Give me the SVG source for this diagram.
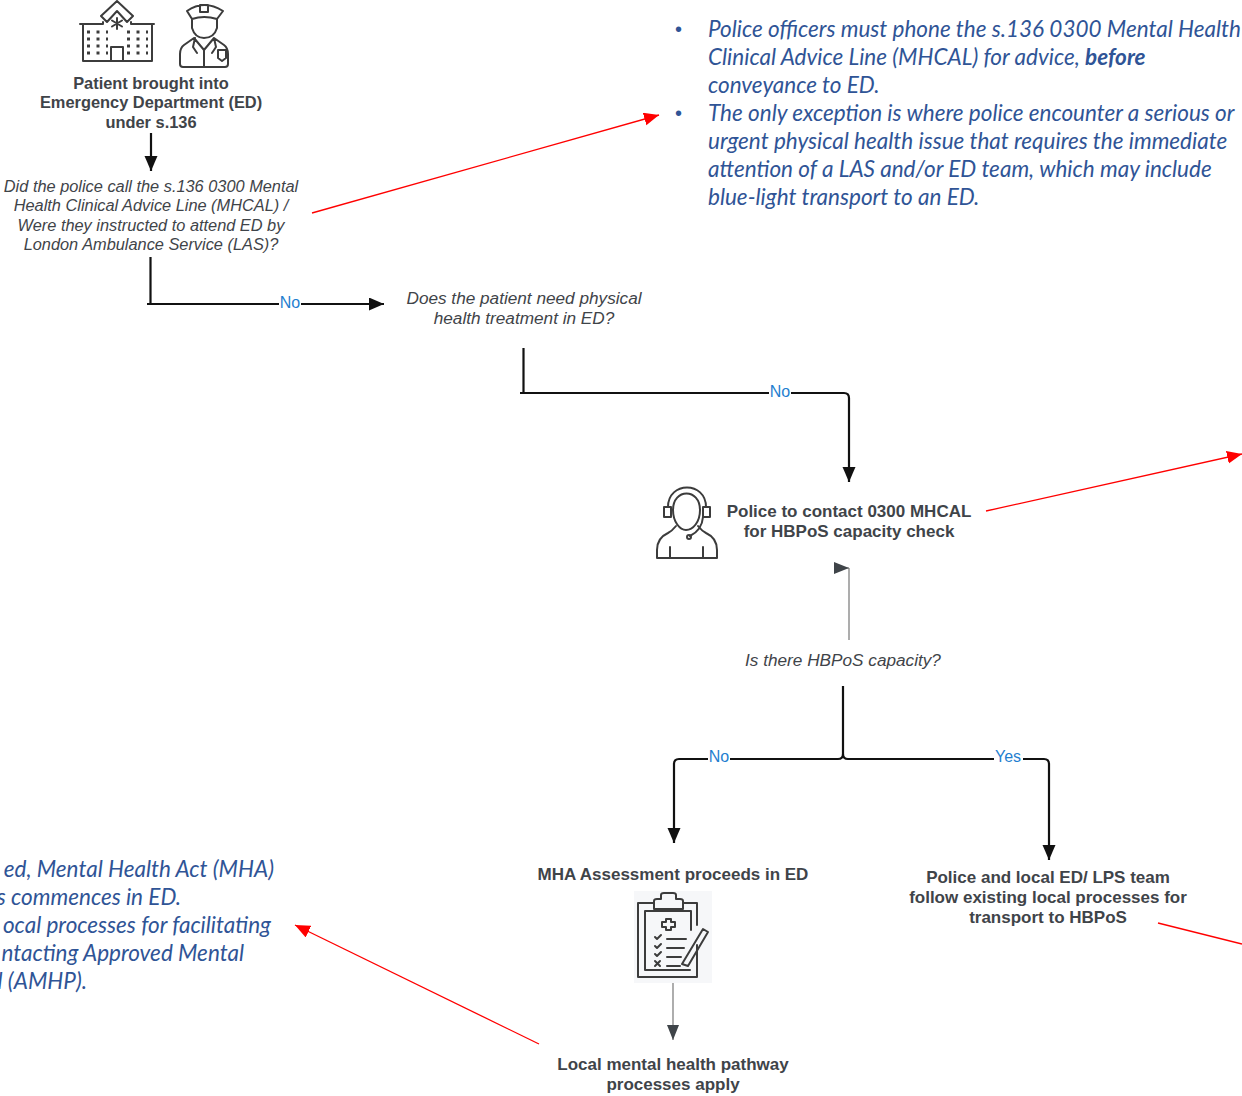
<svg xmlns="http://www.w3.org/2000/svg" width="1242" height="1096" viewBox="0 0 1242 1096">
<style>
.h{font:bold 17px "Liberation Sans",Arial,sans-serif;fill:#3f4449;text-anchor:middle}
.hs{font-size:16.4px}
.q{font:italic 17.2px "Liberation Sans",Arial,sans-serif;fill:#3f4449;text-anchor:middle}
.qs{font-size:16.35px}
.n{font:italic 22.5px Lato,"Liberation Sans",sans-serif;fill:#2f5496}
.l{font:16px "Liberation Sans",Arial,sans-serif;fill:#1f7fd0;text-anchor:middle}
.k{fill:none;stroke:#111;stroke-width:2.2}
.g{fill:none;stroke:#777;stroke-width:1.2}
.r{fill:none;stroke:#f00;stroke-width:1.3}
.i{fill:none;stroke:#3c3c3c;stroke-width:2;stroke-linejoin:round;stroke-linecap:round}
.lb{fill:#fff}
</style>
<defs>
<marker id="ak" markerWidth="16" markerHeight="14" refX="15" refY="6.5" orient="auto" markerUnits="userSpaceOnUse"><path d="M0 0L15 6.5L0 13z" fill="#111"/></marker>
<marker id="ag" markerWidth="16" markerHeight="14" refX="15" refY="6" orient="auto" markerUnits="userSpaceOnUse"><path d="M0 0L15 6L0 12z" fill="#3f4449"/></marker>
<marker id="ar" markerWidth="16" markerHeight="14" refX="15" refY="6.5" orient="auto" markerUnits="userSpaceOnUse"><path d="M0 0L15 6.5L0 13z" fill="#f00"/></marker>
</defs>
<rect width="1242" height="1096" fill="#fff"/>
<g id="connectors">
<path class="k" marker-end="url(#ak)" d="M151 133V171"/>
<path class="k" marker-end="url(#ak)" d="M150.500 257V304M147 304H384"/>
<path class="k" marker-end="url(#ak)" d="M523.500 348V393M520 393H844Q849 393 849 398V482"/>
<path class="g" marker-end="url(#ag)" d="M849 568V640M847 568H849"/>
<path class="k" marker-end="url(#ak)" d="M843 686V754Q843 759 838 759H679Q674 759 674 764V843"/>
<path class="k" marker-end="url(#ak)" d="M843 754Q843 759 848 759H1044Q1049 759 1049 764V860"/>
<path class="g" marker-end="url(#ag)" d="M673 982V1040"/>
<path class="r" marker-end="url(#ar)" d="M312 213L659 115"/>
<path class="r" marker-end="url(#ar)" d="M986 511L1242 454"/>
<path class="r" d="M1158 923L1242 944"/>
<path class="r" marker-end="url(#ar)" d="M539 1044L295 925"/>
<rect class="lb" x="279" y="295" width="22" height="16"/><text class="l" x="290" y="308">No</text>
<rect class="lb" x="769" y="384" width="22" height="16"/><text class="l" x="780" y="397">No</text>
<rect class="lb" x="708" y="749" width="22" height="16"/><text class="l" x="719" y="762">No</text>
<rect class="lb" x="994" y="749" width="29" height="16"/><text class="l" x="1008" y="762">Yes</text>
</g>
<g id="node-start">
<g class="i">
<path d="M80 24H103M131 24H154M83 24V61H152V24M101 16L117 1L133 16L127 22L117 11L107 22ZM103 24V22M131 24V22M111 61V47H123V61"/>
<path d="M117 18V29M112 20.500L122 26.500M122 20.500L112 26.500"/>
<path stroke-dasharray="3 6.500" stroke-width="3" stroke-linecap="butt" d="M87 32H108M87 39H108M87 46H108M87 53H108M127 32H148M127 39H148M127 46H148M127 53H148"/>
<path d="M187 11Q204 -1 223 11L217 19Q204 15 192 19ZM200 5H208V12H200ZM192 19V28Q195 38 204 38Q214 38 217 28V19M194 38L184 45Q180 48 180 54V64Q180 67 183 67H225Q228 67 228 64V54Q228 48 224 45L214 38L204 50ZM204 50V67M195 38L193 47L197 53M214 38L216 47L212 53M218 50H226V58L222 61L218 58Z"/>
</g>
<text class="h hs"><tspan x="151" y="89">Patient brought into</tspan><tspan x="151" y="108">Emergency Department (ED)</tspan><tspan x="151" y="128">under s.136</tspan></text>
</g>
<g id="node-q1"><text class="q qs"><tspan x="151" y="192">Did the police call the s.136 0300 Mental</tspan><tspan x="151" y="211">Health Clinical Advice Line (MHCAL) /</tspan><tspan x="151" y="231">Were they instructed to attend ED by</tspan><tspan x="151" y="250">London Ambulance Service (LAS)?</tspan></text></g>
<g id="node-q2"><text class="q"><tspan x="524" y="304">Does the patient need physical</tspan><tspan x="524" y="324">health treatment in ED?</tspan></text></g>
<g id="node-call">
<g class="i" stroke-width="2.400">
<path d="M668 507C668 481 706 481 706 507M673 510C673 488 700 488 700 510C700 522 693 530 686 530C680 530 673 522 673 510ZM664 507H671V517H664ZM703 507H710V517H703ZM703 517Q702 530 690 536"/>
<circle cx="689" cy="537" r="2"/>
<path d="M676 526Q672 531 668 533Q657 538 657 550V558H717V550Q717 538 706 533Q702 531 698 526M670 547V558M703 547V558"/>
</g>
<text class="h"><tspan x="849" y="517">Police to contact 0300 MHCAL</tspan><tspan x="849" y="537">for HBPoS capacity check</tspan></text>
</g>
<g id="node-q3"><text class="q" x="843" y="666">Is there HBPoS capacity?</text></g>
<g id="node-ed">
<text class="h" x="673" y="880">MHA Assessment proceeds in ED</text>
<rect x="634" y="891" width="78" height="92" fill="#f6f7f9"/>
<g class="i">
<path d="M653 903H638V977H697V945M683 903H697V925M645 911V970H690M645 911H691V930M654 909V901Q654 899 657 899H661V895Q661 893 664 893H673Q676 893 676 895V899H680Q683 899 683 901V909Z"/>
<path d="M666 919H671V922H675V927H671V930H666V927H662V922H666Z"/>
<path d="M655 937L657 939L661 935M655 946L657 948L661 944M655 954L657 956L661 952M655 961L660 966M660 961L655 966M667 939H686M667 948H684M667 957H681M667 966H680M682 964L703 929L708 932L688 966Z"/>
</g>
</g>
<g id="node-local"><text class="h"><tspan x="673" y="1070">Local mental health pathway</tspan><tspan x="673" y="1090">processes apply</tspan></text></g>
<g id="node-transport"><text class="h"><tspan x="1048" y="883">Police and local ED/ LPS team</tspan><tspan x="1048" y="903">follow existing local processes for</tspan><tspan x="1048" y="923">transport  to HBPoS</tspan></text></g>
<g id="note-top">
<text x="675" y="36" font-size="20" fill="#2f5496" font-family="Liberation Sans,sans-serif">•</text>
<text x="675" y="120" font-size="20" fill="#2f5496" font-family="Liberation Sans,sans-serif">•</text>
<text class="n"><tspan x="708" y="37">Police officers must phone the s.136 0300 Mental Health</tspan><tspan x="708" y="65">Clinical Advice Line (MHCAL) for advice, <tspan font-weight="bold">before</tspan></tspan><tspan x="708" y="93">conveyance to ED.</tspan><tspan x="708" y="121">The only exception is where police encounter a serious or</tspan><tspan x="708" y="149">urgent physical health issue that requires the immediate</tspan><tspan x="708" y="177">attention of a LAS and/or ED team, which may include</tspan><tspan x="708" y="205">blue-light transport to an ED.</tspan></text>
</g>
<g id="note-left">
<text class="n" text-anchor="end"><tspan x="274" y="877">ed, Mental Health Act (MHA)</tspan><tspan x="181" y="905">s commences in ED.</tspan><tspan x="271" y="933">ocal processes for facilitating</tspan><tspan x="244" y="961">ntacting Approved Mental</tspan><tspan x="87" y="989">l (AMHP).</tspan></text>
</g>
</svg>
